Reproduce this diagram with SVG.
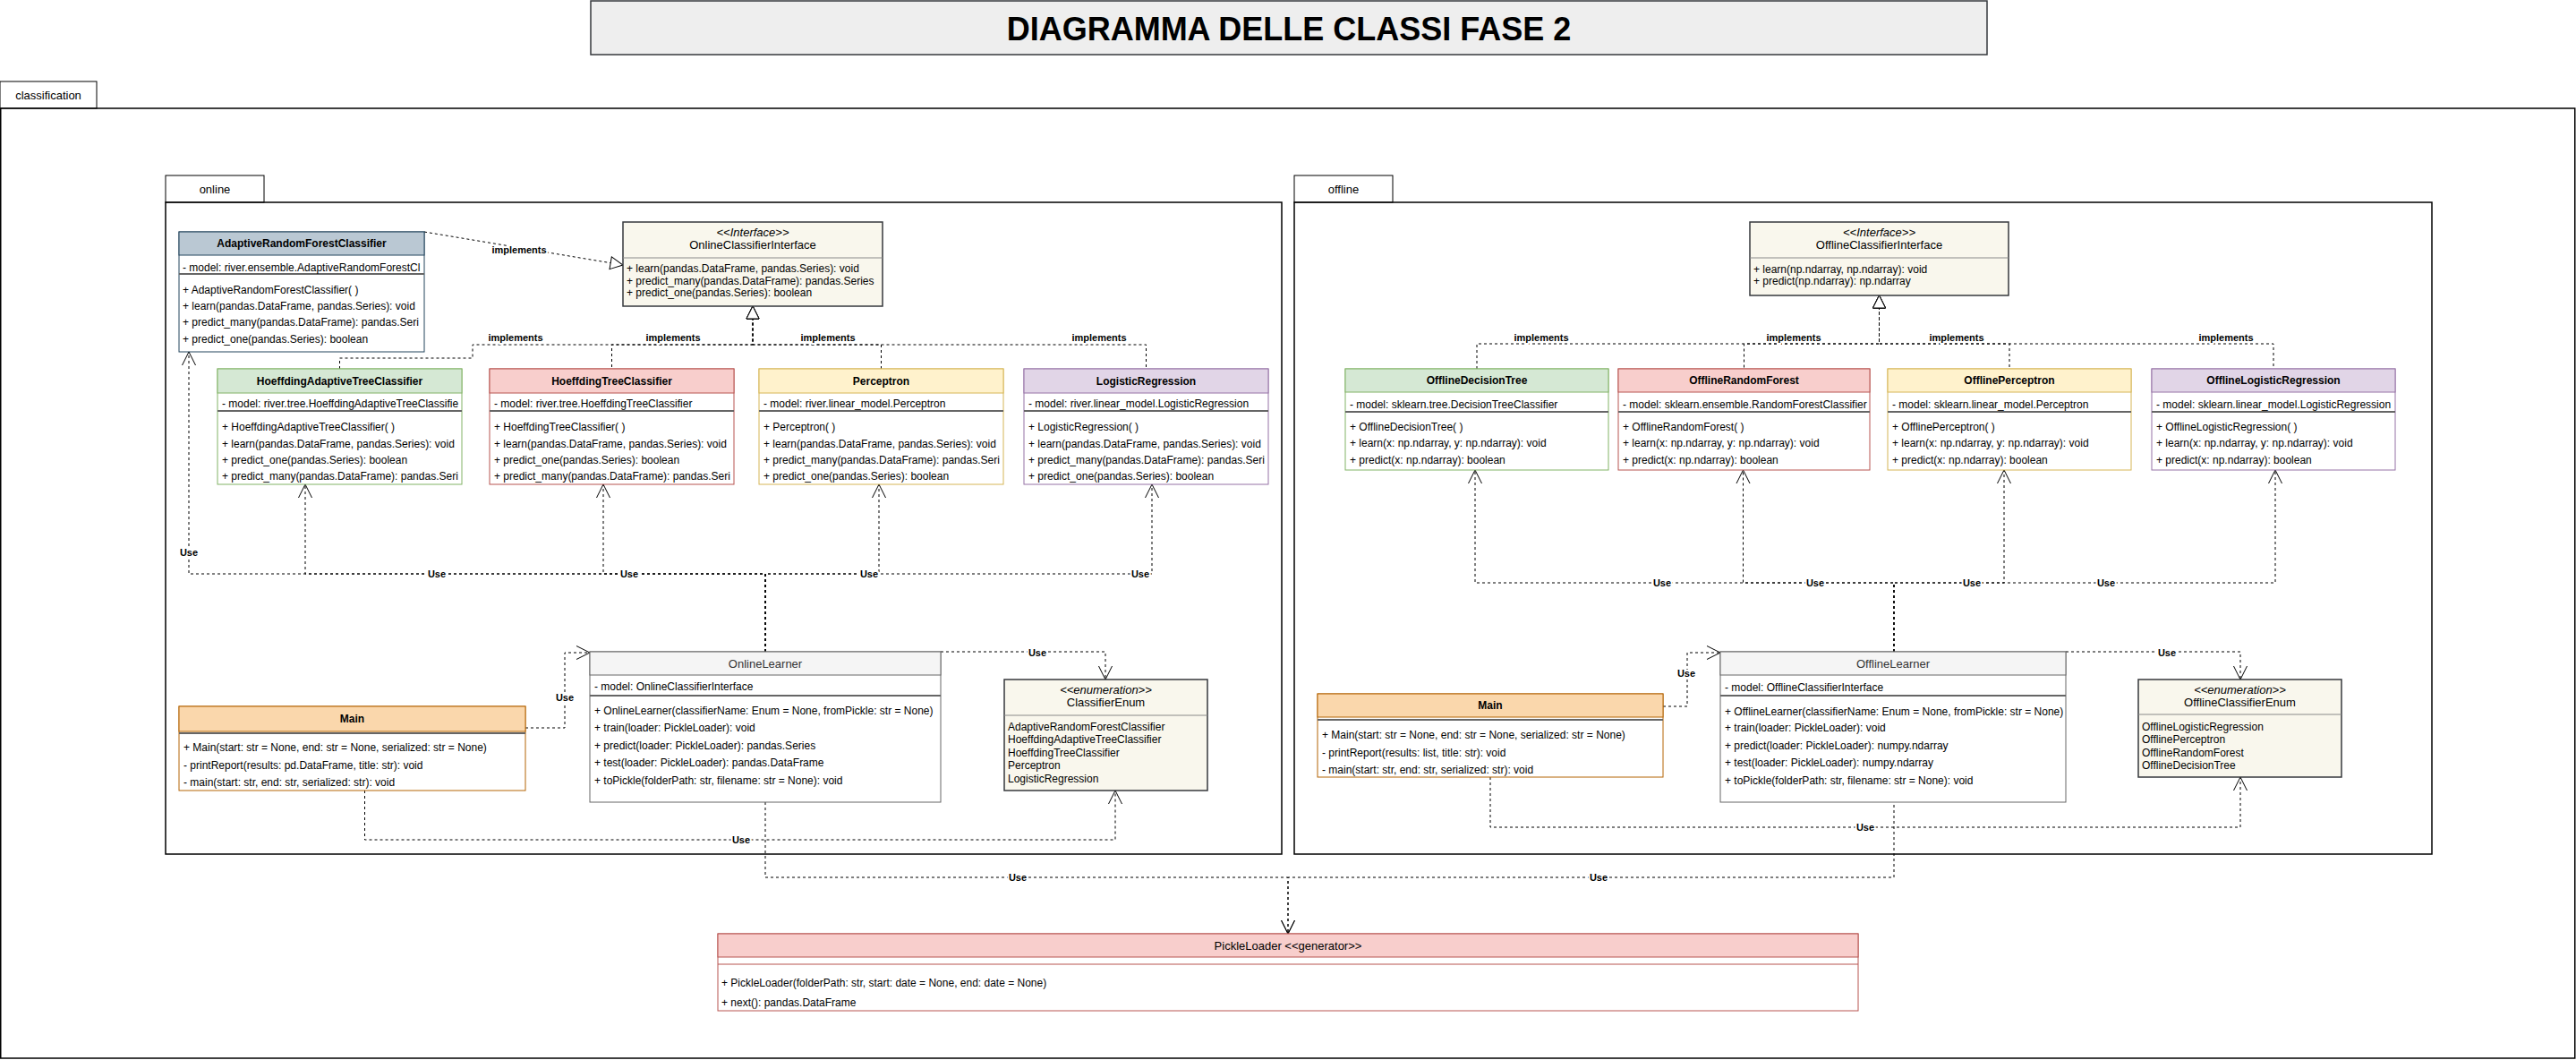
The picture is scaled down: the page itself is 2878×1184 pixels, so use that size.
<svg xmlns="http://www.w3.org/2000/svg" width="2878" height="1184" viewBox="0 0 2878 1184">
<style>
text{font-family:"Liberation Sans",Arial,Helvetica,sans-serif;dominant-baseline:central;fill:#000}
.m{font-size:12px}
.hb{font-size:12px;font-weight:bold;text-anchor:middle}
.hn{font-size:13px;text-anchor:middle}
.st{font-size:13px;font-style:italic;text-anchor:middle}
.pk{font-size:13px;text-anchor:middle}
.pkg{fill:none;stroke:#000;stroke-width:1.5}
.tab{fill:#fff;stroke:#000;stroke-width:1}
.e{fill:none;stroke:#000;stroke-width:1;stroke-dasharray:3 3}
.lbl{font-size:11px;font-weight:bold;text-anchor:middle;paint-order:stroke;stroke:#fff;stroke-width:4px;stroke-linejoin:round}
.sep{stroke:#666;stroke-width:2}
.box{fill:#fff}
.green .box,.green .hd,.green .ln{stroke:#82b366}.green .hd{fill:#d5e8d4}
.red .box,.red .hd,.red .ln{stroke:#b85450}.red .hd{fill:#f8cecc}
.yellow .box,.yellow .hd,.yellow .ln{stroke:#d6b656}.yellow .hd{fill:#fff2cc}
.purple .box,.purple .hd,.purple .ln{stroke:#9673a6}.purple .hd{fill:#e1d5e7}
.blue .box,.blue .hd,.blue .ln{stroke:#23445d}.blue .hd{fill:#bac8d3}
.orange .box,.orange .hd,.orange .ln{stroke:#b46504}.orange .hd{fill:#fad7ac}
.gray .box,.gray .hd,.gray .ln{stroke:#666}.gray .hd{fill:#f5f5f5}
.gray .hn{fill:#333}
.note .box,.note .hd{fill:#f9f7ed;stroke:#36393d;stroke-width:1.5}.note .ln{stroke:#8a8a8a}
</style>
<defs>
<marker id="tri" viewBox="-1 -1 16 16" refX="14" refY="7" markerWidth="16" markerHeight="16" markerUnits="userSpaceOnUse" orient="auto">
<path d="M0,0 L14,7 L0,14 Z" fill="#fff" stroke="#000" stroke-width="1"/>
</marker>
<marker id="open" viewBox="-1 -1 17 17" refX="15" refY="7.5" markerWidth="17" markerHeight="17" markerUnits="userSpaceOnUse" orient="auto">
<path d="M0,0 L15,7.5 L0,15" fill="none" stroke="#000" stroke-width="1"/>
</marker>
</defs>
<rect width="2878" height="1184" fill="#fff"/>

<g id="title">
<rect x="660" y="1" width="1560" height="60" fill="#eeeeee" stroke="#36393d" stroke-width="1.5"/>
<text x="1440" y="32" style="font-size:36px;font-weight:bold;text-anchor:middle">DIAGRAMMA DELLE CLASSI FASE 2</text>
</g>

<g id="pkg-classification">
<rect class="tab" x="0" y="91" width="108" height="30"/>
<rect class="pkg" x="0.75" y="121" width="2876" height="1061"/>
<text class="pk" x="54" y="106">classification</text>
</g>
<g id="pkg-online">
<rect class="tab" x="185" y="196" width="110" height="30"/>
<rect class="pkg" x="185" y="226" width="1247" height="728"/>
<text class="pk" x="240" y="211">online</text>
</g>
<g id="pkg-offline">
<rect class="tab" x="1446" y="196" width="110" height="30"/>
<rect class="pkg" x="1446" y="226" width="1271" height="728"/>
<text class="pk" x="1501" y="211">offline</text>
</g>

<g id="connectors">
<path class="e" d="M474 259 L696 296" marker-end="url(#tri)"/>
<path class="e" d="M379.5 412 V400 H528 V385 H841 V342" marker-end="url(#tri)"/>
<path class="e" d="M683.5 412 V385 H841 V342" stroke-dashoffset="4" marker-end="url(#tri)"/>
<path class="e" d="M984.5 412 V385 H841 V342" marker-end="url(#tri)"/>
<path class="e" d="M1280.5 412 V385 H841 V342" stroke-dashoffset="4" marker-end="url(#tri)"/>
<path class="e" d="M1650 412 V384 H2099.5 V330" marker-end="url(#tri)"/>
<path class="e" d="M1948.5 412 V384 H2099.5 V330" stroke-dashoffset="4.5" marker-end="url(#tri)"/>
<path class="e" d="M2245 412 V384 H2099.5 V330" stroke-dashoffset="4" marker-end="url(#tri)"/>
<path class="e" d="M2540 412 V384 H2099.5 V330" stroke-dashoffset="3" marker-end="url(#tri)"/>

<path class="e" d="M855 728 V641 H211 V393" marker-end="url(#open)"/>
<path class="e" d="M855 728 V641 H341 V541" marker-end="url(#open)"/>
<path class="e" d="M855 728 V641 H674 V541" marker-end="url(#open)"/>
<path class="e" d="M855 728 V641 H982 V541" marker-end="url(#open)"/>
<path class="e" d="M855 728 V641 H1287 V541" marker-end="url(#open)"/>
<path class="e" d="M587 813 H631 V729 H659" marker-end="url(#open)"/>
<path class="e" d="M1051 728 H1235 V759" marker-end="url(#open)"/>
<path class="e" d="M407.5 883 V938 H1246 V883" marker-end="url(#open)"/>
<path class="e" d="M855 896 V980 H1439 V1043" marker-end="url(#open)"/>

<path class="e" d="M2116 728 V651 H1648 V525" marker-end="url(#open)"/>
<path class="e" d="M2116 728 V651 H1947.5 V525" marker-end="url(#open)"/>
<path class="e" d="M2116 728 V651 H2239 V525" marker-end="url(#open)"/>
<path class="e" d="M2116 728 V651 H2542 V525" marker-end="url(#open)"/>
<path class="e" d="M1858 789 H1885 V729 H1922" marker-end="url(#open)"/>
<path class="e" d="M2308 728 H2503 V759" marker-end="url(#open)"/>
<path class="e" d="M1665 868 V924 H2503 V868" marker-end="url(#open)"/>
<path class="e" d="M2116 896 V980 H1439 V1043" stroke-dashoffset="3" marker-end="url(#open)"/>

<text class="lbl" x="580" y="279">implements</text>
<text class="lbl" x="576" y="377">implements</text>
<text class="lbl" x="752" y="377">implements</text>
<text class="lbl" x="925" y="377">implements</text>
<text class="lbl" x="1228" y="377">implements</text>
<text class="lbl" x="1722" y="377">implements</text>
<text class="lbl" x="2004" y="377">implements</text>
<text class="lbl" x="2186" y="377">implements</text>
<text class="lbl" x="2487" y="377">implements</text>

<text class="lbl" x="211" y="617">Use</text>
<text class="lbl" x="488" y="641">Use</text>
<text class="lbl" x="703" y="641">Use</text>
<text class="lbl" x="971" y="641">Use</text>
<text class="lbl" x="1274" y="641">Use</text>
<text class="lbl" x="631" y="779">Use</text>
<text class="lbl" x="1159" y="729">Use</text>
<text class="lbl" x="828" y="938">Use</text>
<text class="lbl" x="1137" y="980">Use</text>
<text class="lbl" x="1857" y="651">Use</text>
<text class="lbl" x="2028" y="651">Use</text>
<text class="lbl" x="2203" y="651">Use</text>
<text class="lbl" x="2353" y="651">Use</text>
<text class="lbl" x="1884" y="752">Use</text>
<text class="lbl" x="2421" y="729">Use</text>
<text class="lbl" x="2084" y="924">Use</text>
<text class="lbl" x="1786" y="980">Use</text>
</g>

<g id="AdaptiveRandomForestClassifier" class="blue">
<rect class="box" x="200" y="259" width="274" height="134"/>
<rect class="hd" x="200" y="259" width="274" height="26"/>
<line class="sep" x1="200" y1="306" x2="474" y2="306"/>
<text class="hb" x="337" y="272">AdaptiveRandomForestClassifier</text>
<text class="m" x="204" y="298.5">- model: river.ensemble.AdaptiveRandomForestCl</text>
<text class="m" x="204" y="324">+ AdaptiveRandomForestClassifier( )</text>
<text class="m" x="204" y="342">+ learn(pandas.DataFrame, pandas.Series): void</text>
<text class="m" x="204" y="360">+ predict_many(pandas.DataFrame): pandas.Seri</text>
<text class="m" x="204" y="378.5">+ predict_one(pandas.Series): boolean</text>
</g>

<g id="OnlineClassifierInterface" class="note">
<rect class="box" x="696" y="248" width="290" height="94"/>
<line class="ln" x1="696" y1="288" x2="986" y2="288"/>
<text class="st" x="841" y="259.5">&lt;&lt;Interface&gt;&gt;</text>
<text class="hn" x="841" y="273">OnlineClassifierInterface</text>
<text class="m" x="700" y="300">+ learn(pandas.DataFrame, pandas.Series): void</text>
<text class="m" x="700" y="313.5">+ predict_many(pandas.DataFrame): pandas.Series</text>
<text class="m" x="700" y="327">+ predict_one(pandas.Series): boolean</text>
</g>

<g id="HoeffdingAdaptiveTreeClassifier" class="green">
<rect class="box" x="243" y="412" width="273" height="129"/>
<rect class="hd" x="243" y="412" width="273" height="27"/>
<line class="sep" x1="243" y1="459" x2="516" y2="459"/>
<text class="hb" x="379.5" y="425.5">HoeffdingAdaptiveTreeClassifier</text>
<text class="m" x="248" y="451">- model: river.tree.HoeffdingAdaptiveTreeClassifie</text>
<text class="m" x="248" y="477.3">+ HoeffdingAdaptiveTreeClassifier( )</text>
<text class="m" x="248" y="495.7">+ learn(pandas.DataFrame, pandas.Series): void</text>
<text class="m" x="248" y="514">+ predict_one(pandas.Series): boolean</text>
<text class="m" x="248" y="532.3">+ predict_many(pandas.DataFrame): pandas.Seri</text>
</g>

<g id="HoeffdingTreeClassifier" class="red">
<rect class="box" x="547" y="412" width="273" height="129"/>
<rect class="hd" x="547" y="412" width="273" height="27"/>
<line class="sep" x1="547" y1="459" x2="820" y2="459"/>
<text class="hb" x="683.5" y="425.5">HoeffdingTreeClassifier</text>
<text class="m" x="552" y="451">- model: river.tree.HoeffdingTreeClassifier</text>
<text class="m" x="552" y="477.3">+ HoeffdingTreeClassifier( )</text>
<text class="m" x="552" y="495.7">+ learn(pandas.DataFrame, pandas.Series): void</text>
<text class="m" x="552" y="514">+ predict_one(pandas.Series): boolean</text>
<text class="m" x="552" y="532.3">+ predict_many(pandas.DataFrame): pandas.Seri</text>
</g>

<g id="Perceptron" class="yellow">
<rect class="box" x="848" y="412" width="273" height="129"/>
<rect class="hd" x="848" y="412" width="273" height="27"/>
<line class="sep" x1="848" y1="459" x2="1121" y2="459"/>
<text class="hb" x="984.5" y="425.5">Perceptron</text>
<text class="m" x="853" y="451">- model: river.linear_model.Perceptron</text>
<text class="m" x="853" y="477.3">+ Perceptron( )</text>
<text class="m" x="853" y="495.7">+ learn(pandas.DataFrame, pandas.Series): void</text>
<text class="m" x="853" y="514">+ predict_many(pandas.DataFrame): pandas.Seri</text>
<text class="m" x="853" y="532.3">+ predict_one(pandas.Series): boolean</text>
</g>

<g id="LogisticRegression" class="purple">
<rect class="box" x="1144" y="412" width="273" height="129"/>
<rect class="hd" x="1144" y="412" width="273" height="27"/>
<line class="sep" x1="1144" y1="459" x2="1417" y2="459"/>
<text class="hb" x="1280.5" y="425.5">LogisticRegression</text>
<text class="m" x="1149" y="451">- model: river.linear_model.LogisticRegression</text>
<text class="m" x="1149" y="477.3">+ LogisticRegression( )</text>
<text class="m" x="1149" y="495.7">+ learn(pandas.DataFrame, pandas.Series): void</text>
<text class="m" x="1149" y="514">+ predict_many(pandas.DataFrame): pandas.Seri</text>
<text class="m" x="1149" y="532.3">+ predict_one(pandas.Series): boolean</text>
</g>

<g id="Main-online" class="orange">
<rect class="box" x="200" y="789" width="387" height="94"/>
<rect class="hd" x="200" y="789" width="387" height="28"/>
<line class="sep" x1="200" y1="819" x2="587" y2="819"/>
<text class="hb" x="393.5" y="803">Main</text>
<text class="m" x="205" y="835">+ Main(start: str = None, end: str = None, serialized: str = None)</text>
<text class="m" x="205" y="855">- printReport(results: pd.DataFrame, title: str): void</text>
<text class="m" x="205" y="874">- main(start: str, end: str, serialized: str): void</text>
</g>

<g id="OnlineLearner" class="gray">
<rect class="box" x="659" y="728" width="392" height="168"/>
<rect class="hd" x="659" y="728" width="392" height="26"/>
<line class="sep" x1="659" y1="777" x2="1051" y2="777"/>
<text class="hn" x="855" y="741">OnlineLearner</text>
<text class="m" x="664" y="767">- model: OnlineClassifierInterface</text>
<text class="m" x="664" y="794.3">+ OnlineLearner(classifierName: Enum = None, fromPickle: str = None)</text>
<text class="m" x="664" y="813">+ train(loader: PickleLoader): void</text>
<text class="m" x="664" y="832.7">+ predict(loader: PickleLoader): pandas.Series</text>
<text class="m" x="664" y="852">+ test(loader: PickleLoader): pandas.DataFrame</text>
<text class="m" x="664" y="872">+ toPickle(folderPath: str, filename: str = None): void</text>
</g>

<g id="ClassifierEnum" class="note">
<rect class="box" x="1122" y="759" width="227" height="124"/>
<line class="ln" x1="1122" y1="799" x2="1349" y2="799"/>
<text class="st" x="1235.5" y="770.7">&lt;&lt;enumeration&gt;&gt;</text>
<text class="hn" x="1235.5" y="784">ClassifierEnum</text>
<text class="m" x="1126" y="811.7">AdaptiveRandomForestClassifier</text>
<text class="m" x="1126" y="826">HoeffdingAdaptiveTreeClassifier</text>
<text class="m" x="1126" y="840.7">HoeffdingTreeClassifier</text>
<text class="m" x="1126" y="855">Perceptron</text>
<text class="m" x="1126" y="869.5">LogisticRegression</text>
</g>

<g id="OfflineClassifierInterface" class="note">
<rect class="box" x="1955" y="248" width="289" height="82"/>
<line class="ln" x1="1955" y1="288" x2="2244" y2="288"/>
<text class="st" x="2099.5" y="259.5">&lt;&lt;Interface&gt;&gt;</text>
<text class="hn" x="2099.5" y="273">OfflineClassifierInterface</text>
<text class="m" x="1959" y="301">+ learn(np.ndarray, np.ndarray): void</text>
<text class="m" x="1959" y="313.5">+ predict(np.ndarray): np.ndarray</text>
</g>

<g id="OfflineDecisionTree" class="green">
<rect class="box" x="1503" y="412" width="294" height="113"/>
<rect class="hd" x="1503" y="412" width="294" height="26"/>
<line class="sep" x1="1503" y1="460" x2="1797" y2="460"/>
<text class="hb" x="1650" y="425">OfflineDecisionTree</text>
<text class="m" x="1508" y="452">- model: sklearn.tree.DecisionTreeClassifier</text>
<text class="m" x="1508" y="477.3">+ OfflineDecisionTree( )</text>
<text class="m" x="1508" y="495.3">+ learn(x: np.ndarray, y: np.ndarray): void</text>
<text class="m" x="1508" y="514">+ predict(x: np.ndarray): boolean</text>
</g>

<g id="OfflineRandomForest" class="red">
<rect class="box" x="1808" y="412" width="281" height="113"/>
<rect class="hd" x="1808" y="412" width="281" height="26"/>
<line class="sep" x1="1808" y1="460" x2="2089" y2="460"/>
<text class="hb" x="1948.5" y="425">OfflineRandomForest</text>
<text class="m" x="1813" y="452">- model: sklearn.ensemble.RandomForestClassifier</text>
<text class="m" x="1813" y="477.3">+ OfflineRandomForest( )</text>
<text class="m" x="1813" y="495.3">+ learn(x: np.ndarray, y: np.ndarray): void</text>
<text class="m" x="1813" y="514">+ predict(x: np.ndarray): boolean</text>
</g>

<g id="OfflinePerceptron" class="yellow">
<rect class="box" x="2109" y="412" width="272" height="113"/>
<rect class="hd" x="2109" y="412" width="272" height="26"/>
<line class="sep" x1="2109" y1="460" x2="2381" y2="460"/>
<text class="hb" x="2245" y="425">OfflinePerceptron</text>
<text class="m" x="2114" y="452">- model: sklearn.linear_model.Perceptron</text>
<text class="m" x="2114" y="477.3">+ OfflinePerceptron( )</text>
<text class="m" x="2114" y="495.3">+ learn(x: np.ndarray, y: np.ndarray): void</text>
<text class="m" x="2114" y="514">+ predict(x: np.ndarray): boolean</text>
</g>

<g id="OfflineLogisticRegression" class="purple">
<rect class="box" x="2404" y="412" width="272" height="113"/>
<rect class="hd" x="2404" y="412" width="272" height="26"/>
<line class="sep" x1="2404" y1="460" x2="2676" y2="460"/>
<text class="hb" x="2540" y="425">OfflineLogisticRegression</text>
<text class="m" x="2409" y="452">- model: sklearn.linear_model.LogisticRegression</text>
<text class="m" x="2409" y="477.3">+ OfflineLogisticRegression( )</text>
<text class="m" x="2409" y="495.3">+ learn(x: np.ndarray, y: np.ndarray): void</text>
<text class="m" x="2409" y="514">+ predict(x: np.ndarray): boolean</text>
</g>

<g id="Main-offline" class="orange">
<rect class="box" x="1472" y="775" width="386" height="93"/>
<rect class="hd" x="1472" y="775" width="386" height="26"/>
<line class="sep" x1="1472" y1="804" x2="1858" y2="804"/>
<text class="hb" x="1665" y="788">Main</text>
<text class="m" x="1477" y="820.7">+ Main(start: str = None, end: str = None, serialized: str = None)</text>
<text class="m" x="1477" y="841">- printReport(results: list, title: str): void</text>
<text class="m" x="1477" y="860">- main(start: str, end: str, serialized: str): void</text>
</g>

<g id="OfflineLearner" class="gray">
<rect class="box" x="1922" y="728" width="386" height="168"/>
<rect class="hd" x="1922" y="728" width="386" height="26"/>
<line class="sep" x1="1922" y1="777" x2="2308" y2="777"/>
<text class="hn" x="2115" y="741">OfflineLearner</text>
<text class="m" x="1927" y="768">- model: OfflineClassifierInterface</text>
<text class="m" x="1927" y="795">+ OfflineLearner(classifierName: Enum = None, fromPickle: str = None)</text>
<text class="m" x="1927" y="813.3">+ train(loader: PickleLoader): void</text>
<text class="m" x="1927" y="833.3">+ predict(loader: PickleLoader): numpy.ndarray</text>
<text class="m" x="1927" y="852.3">+ test(loader: PickleLoader): numpy.ndarray</text>
<text class="m" x="1927" y="872.3">+ toPickle(folderPath: str, filename: str = None): void</text>
</g>

<g id="OfflineClassifierEnum" class="note">
<rect class="box" x="2389" y="759" width="227" height="109"/>
<line class="ln" x1="2389" y1="798" x2="2616" y2="798"/>
<text class="st" x="2502.5" y="770">&lt;&lt;enumeration&gt;&gt;</text>
<text class="hn" x="2502.5" y="784">OfflineClassifierEnum</text>
<text class="m" x="2393" y="811.7">OfflineLogisticRegression</text>
<text class="m" x="2393" y="826">OfflinePerceptron</text>
<text class="m" x="2393" y="840.7">OfflineRandomForest</text>
<text class="m" x="2393" y="855">OfflineDecisionTree</text>
</g>

<g id="PickleLoader" class="red">
<rect class="box" x="802" y="1043" width="1274" height="86"/>
<rect class="hd" x="802" y="1043" width="1274" height="26"/>
<line class="ln" x1="802" y1="1077" x2="2076" y2="1077"/>
<text class="hn" x="1439" y="1056">PickleLoader &lt;&lt;generator&gt;&gt;</text>
<text class="m" x="806" y="1098">+ PickleLoader(folderPath: str, start: date = None, end: date = None)</text>
<text class="m" x="806" y="1120">+ next(): pandas.DataFrame</text>
</g>
</svg>
